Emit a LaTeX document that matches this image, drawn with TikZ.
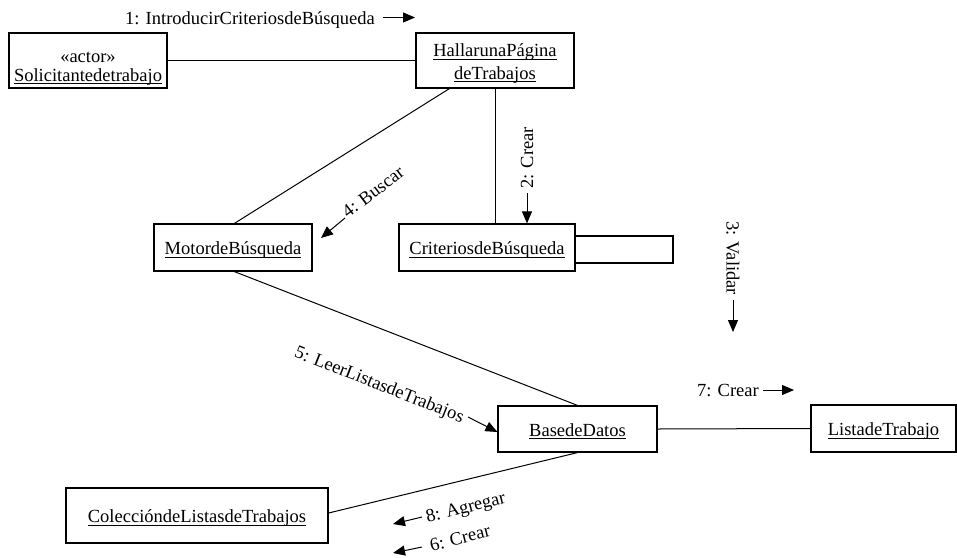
\documentclass[tikz,border=0pt]{standalone}
\usepackage{fontspec}
\setmainfont{Liberation Serif}
\usetikzlibrary{arrows.meta}
% underline at a fixed distance below the baseline (descenders may cross it)
\newcommand\ulined[1]{\leavevmode\setbox0\hbox{#1}\rlap{\vrule width \wd0 height -2.1pt depth 3.1pt}\box0}
\begin{document}
\begin{tikzpicture}[x=1pt,y=-1pt,
  every node/.style={font=\fontsize{18.5}{22}\selectfont, inner sep=0pt},
  obj/.style={draw, line width=1.2pt, rectangle, text height=14pt, text depth=0pt},
  txt/.style={anchor=base},
  link/.style={line width=1pt},
  msg/.style={line width=1pt, -{Triangle[length=12pt,width=10pt]}},
]
\fill[white] (0,0) rectangle (957,557);
\path[use as bounding box] (0,0) rectangle (957,557);

% objects
\node[obj, minimum width=158pt, minimum height=55pt] (sol) at (88,60.5) {};
\node[txt] (solst) at (88,62.7) {«actor»};
\node[txt] (solnm) at (88,81) {\ulined{Solicitantedetrabajo}};
\node[obj, minimum width=158pt, minimum height=55pt] (hal) at (495,60.5) {};
\node[txt] (hal1) at (495,56.7) {\ulined{HallarunaPágina}};
\node[txt] (hal2) at (495,79) {\ulined{deTrabajos}};
\node[obj, minimum width=158pt, minimum height=47pt] (mot) at (233,247.5) {\ulined{MotordeBúsqueda}};
\node[obj, minimum width=176pt, minimum height=47pt] (cri) at (487,247.5) {\ulined{CriteriosdeBúsqueda}};
\node[obj, minimum width=159pt, minimum height=46pt] (bd) at (577.5,429) {\ulined{BasedeDatos}};
\node[obj, minimum width=145pt, minimum height=47pt] (lt) at (883.5,428.5) {\ulined{ListadeTrabajo}};
\node[obj, minimum width=262pt, minimum height=55pt] (col) at (197,515.5) {\ulined{ColeccióndeListasdeTrabajos}};

% self link of CriteriosdeBusqueda
\coordinate (loopR) at (673,250);
\draw[line width=1.2pt] ([yshift=11.5pt]cri.east) -| (loopR) |- ([yshift=-15.5pt]cri.east);

% links
\draw[link] (sol.east) -- (hal.west);
\draw[link] ([xshift=34pt]hal.south west) -- ([xshift=81pt]mot.north west);
\draw[link] (hal.south) -- (hal.south |- cri.north);
\draw[link] ([xshift=81pt]mot.south west) -- (bd.north);
\draw[link] (bd.east) -- (lt.west);
\draw[link] (bd.south) -- ([yshift=2.5pt]col.east);

% messages
\node[txt] (m1) at (250,24) {1: IntroducirCriteriosdeBúsqueda};
\coordinate (m1s) at (383,17.5); \coordinate (m1e) at (415,17.5);
\draw[msg] (m1s) -- (m1e);

\node[rotate=90] (m2) at (527,158) {2: Crear};
\coordinate (m2s) at (527,193);
\draw[msg] (m2s) -- (m2s |- cri.north);

\node[rotate=-90] (m3) at (733,258) {3: Validar};
\coordinate (m3s) at (733,300); \coordinate (m3e) at (733,332);
\draw[msg] (m3s) -- (m3e);

\node[rotate=37] (m4) at (373,192) {4: Buscar};
\coordinate (m4s) at (345,218); \coordinate (m4e) at (321,238);
\draw[msg] (m4s) -- (m4e);

\node[rotate=-21.5] (m5) at (379,385.5) {5: LeerListasdeTrabajos};
\coordinate (m5s) at (468,417);
\draw[msg] (m5s) -- (bd.west |- 0,432);

\node[rotate=14] (m6) at (460,538) {6: Crear};
\coordinate (m6s) at (422,547); \coordinate (m6e) at (393,553);
\draw[msg] (m6s) -- (m6e);

\node[txt] (m7) at (728,396.5) {7: Crear};
\coordinate (m7s) at (763,390); \coordinate (m7e) at (794,390);
\draw[msg] (m7s) -- (m7e);

\node[rotate=14] (m8) at (466,509) {8: Agregar};
\coordinate (m8s) at (422,517); \coordinate (m8e) at (393,524);
\draw[msg] (m8s) -- (m8e);
\end{tikzpicture}
\end{document}
